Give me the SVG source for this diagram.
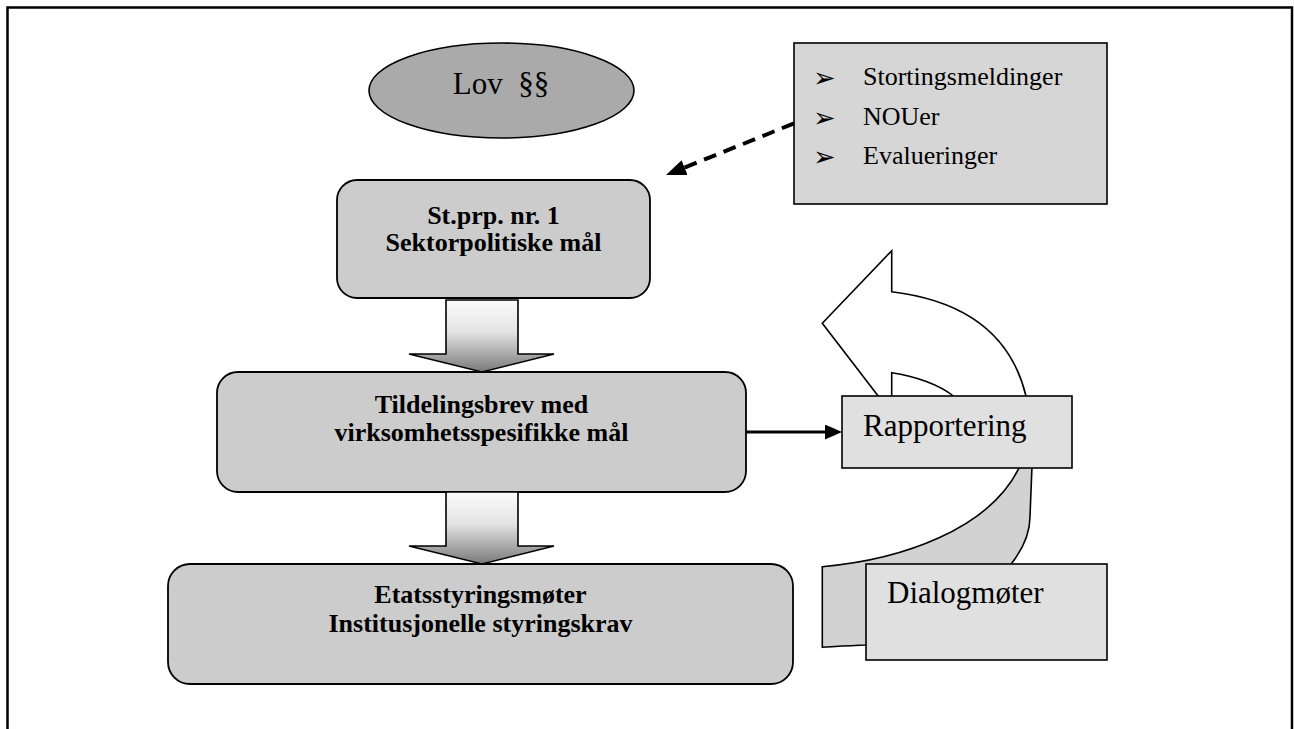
<svg xmlns="http://www.w3.org/2000/svg" width="1294" height="729" viewBox="0 0 1294 729">
<style>
  .frame{fill:none;stroke:#000;stroke-width:2.5}
  .rbox{fill:#cccccc;stroke:#000;stroke-width:1.8}
  .lbox{fill:#e0e0e0;stroke:#000;stroke-width:1.6}
  .sbox{fill:#d6d6d6;stroke:#000;stroke-width:1.6}
  .ell{fill:#aaaaaa;stroke:#000;stroke-width:1.6}
  .block{fill:url(#blockGrad);stroke:#000;stroke-width:1.6;stroke-linejoin:miter}
  .serif{font-family:"Liberation Serif","Times New Roman",serif;fill:#000}
  .big{font-size:31px}
  .bold{font-size:26px;font-weight:bold;text-anchor:middle}
  .list{font-size:26px}
  .bul{font-family:"DejaVu Sans",sans-serif;font-size:27px;fill:#000}
  .conn{fill:none;stroke:#000;stroke-width:3}
  .dash{fill:none;stroke:#000;stroke-width:4;stroke-dasharray:13 8}
  .curveW{fill:#ffffff;stroke:#000;stroke-width:1.6;stroke-linejoin:miter}
  .curveG{fill:#d2d2d2;stroke:#000;stroke-width:1.6}
</style>
<defs>
  <linearGradient id="blockGrad" x1="0" y1="0" x2="0" y2="1">
    <stop offset="0" stop-color="#fcfcfc"/>
    <stop offset="0.45" stop-color="#e2e2e2"/>
    <stop offset="1" stop-color="#7a7a7a"/>
  </linearGradient>
  <marker id="headSolid" viewBox="0 0 17 15" markerWidth="17" markerHeight="15" markerUnits="userSpaceOnUse" refX="7" refY="7.5" orient="auto">
    <path d="M0,0 L17,7.5 L0,15 Z" fill="#000"/>
  </marker>
  <marker id="headDash" viewBox="0 0 20 16" markerWidth="20" markerHeight="16" markerUnits="userSpaceOnUse" refX="10" refY="8" orient="auto">
    <path d="M0,0 L20,8 L0,16 Z" fill="#000"/>
  </marker>
</defs>

<rect x="0" y="0" width="1294" height="729" fill="#ffffff"/>
<path class="frame" d="M7.5,729 L7.5,7.5 L1292,7.5 L1292,729"/>

<g id="cycle-arrow">
  <path class="curveW" d="M891.7,291.7 L891.7,250.7 L822.3,323.3 L892,414 L891.7,414 L891.7,372.7 C915,376 940,385 953.3,396 L975,420 L1030,420 L1026,396 C1010,330 960,300 891.7,291.7 Z"/>
  <path class="curveG" d="M822.3,566.7 C900,560 990,530 1020,466 L1032,466 L1030,516.7 C1030,535 1022,550 1011.7,563.3 L1000,600 L866,645 C850,645.5 836,646.5 822.3,647.3 Z"/>
</g>

<g id="lov">
  <ellipse class="ell" cx="501.5" cy="90.5" rx="132.5" ry="47.5"/>
  <text class="serif big" x="501" y="94" text-anchor="middle" xml:space="preserve">Lov  §§</text>
</g>

<g id="sources">
  <rect class="sbox" x="794" y="43" width="313" height="161"/>
  <text class="bul" x="813" y="87">➢</text>
  <text class="serif list" x="863" y="85">Stortingsmeldinger</text>
  <text class="bul" x="813" y="126.5">➢</text>
  <text class="serif list" x="863" y="124.5">NOUer</text>
  <text class="bul" x="813" y="166">➢</text>
  <text class="serif list" x="863" y="164">Evalueringer</text>
</g>

<g id="stprp">
  <rect class="rbox" x="337" y="180" width="313" height="118" rx="20" ry="20"/>
  <text class="serif bold" x="493.5" y="224">St.prp. nr. 1</text>
  <text class="serif bold" x="493.5" y="251">Sektorpolitiske mål</text>
</g>

<g id="tildeling">
  <rect class="rbox" x="217" y="372" width="529" height="120" rx="21" ry="21"/>
  <text class="serif bold" x="481.5" y="413">Tildelingsbrev med</text>
  <text class="serif bold" x="481.5" y="441">virksomhetsspesifikke mål</text>
</g>

<g id="etats">
  <rect class="rbox" x="168" y="564" width="625" height="120" rx="22" ry="22"/>
  <text class="serif bold" x="480.5" y="603">Etatsstyringsmøter</text>
  <text class="serif bold" x="480.5" y="632">Institusjonelle styringskrav</text>
</g>

<g id="rapportering">
  <rect class="lbox" x="842" y="396" width="230" height="72"/>
  <text class="serif big" x="863" y="436">Rapportering</text>
</g>

<g id="dialog">
  <rect class="lbox" x="866" y="564" width="241" height="96"/>
  <text class="serif big" x="887" y="603">Dialogmøter</text>
</g>

<g id="connectors">
  <path class="block" d="M446,300 L518,300 L518,354 L554,354 L482,372 L409,354 L446,354 Z"/>
  <path class="block" d="M446,492 L518,492 L518,546 L554,546 L482,564 L409,546 L446,546 Z"/>
  <line class="conn" x1="746" y1="432" x2="832" y2="432" marker-end="url(#headSolid)"/>
  <line class="dash" x1="794" y1="123.4" x2="675.3" y2="171.3" marker-end="url(#headDash)"/>
</g>
</svg>
